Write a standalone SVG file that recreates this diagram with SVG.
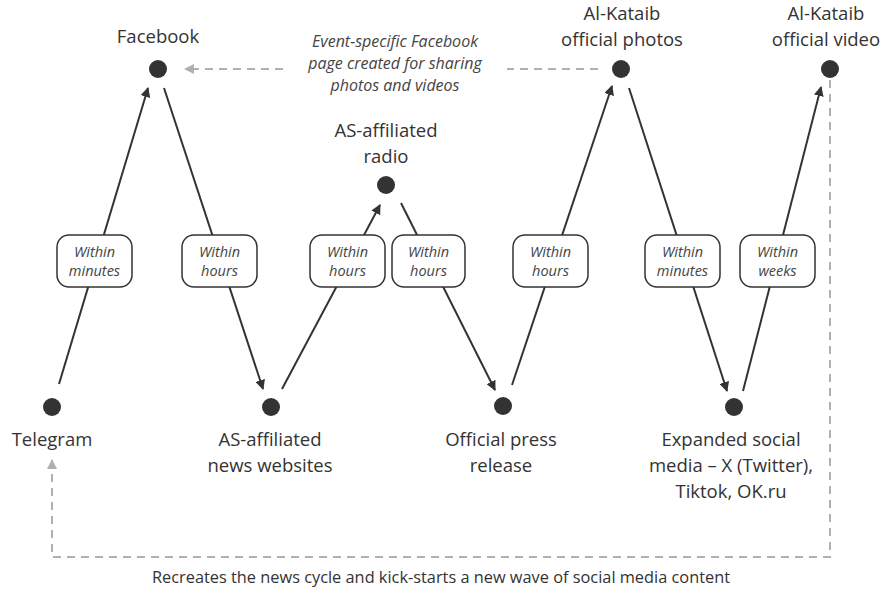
<svg xmlns="http://www.w3.org/2000/svg" width="886" height="595" viewBox="0 0 886 595">
<style>
.lbl{font-family:"Open Sans","DejaVu Sans",sans-serif;font-size:18.5px;fill:#333;text-anchor:middle}
.note{font-family:"Open Sans","DejaVu Sans",sans-serif;font-size:16px;font-style:italic;fill:#444;text-anchor:middle}
.tag{font-family:"Open Sans","DejaVu Sans",sans-serif;font-size:14.5px;font-style:italic;fill:#444;text-anchor:middle}
.foot{font-family:"Open Sans","DejaVu Sans",sans-serif;font-size:15.5px;fill:#333;text-anchor:middle}
.dot{fill:#333}
.arr{stroke:#333;stroke-width:2;fill:none;marker-end:url(#ah)}
.dash{stroke:#b0b0b0;stroke-width:2;fill:none;stroke-dasharray:8 6}
.box{fill:#fff;stroke:#333;stroke-width:1.5}
</style>
<defs>
<marker id="ah" viewBox="0 0 10 10" refX="9" refY="5" markerWidth="5" markerHeight="5" orient="auto" markerUnits="strokeWidth">
<path d="M0,0 L10,5 L0,10 z" fill="#333"/>
</marker>
<marker id="ahg" viewBox="0 0 10 10" refX="9" refY="5" markerWidth="5" markerHeight="5" orient="auto" markerUnits="strokeWidth">
<path d="M0,0 L10,5 L0,10 z" fill="#b0b0b0"/>
</marker>
</defs>
<rect width="886" height="595" fill="#fff"/>
<g id="connectors">
<line class="arr" x1="59" y1="384" x2="148" y2="88"/>
<line class="arr" x1="164" y1="88" x2="263" y2="389"/>
<line class="arr" x1="282" y1="389" x2="380" y2="205"/>
<line class="arr" x1="401" y1="203" x2="495" y2="390"/>
<line class="arr" x1="512" y1="385" x2="612" y2="86"/>
<line class="arr" x1="629" y1="88" x2="727" y2="391"/>
<line class="arr" x1="743" y1="391" x2="821" y2="87"/>
<line class="dash" x1="598" y1="69" x2="507" y2="69"/>
<line class="dash" x1="283" y1="69" x2="185" y2="69" style="marker-end:url(#ahg)"/>
<polyline class="dash" points="830,80 830,557 52,557 52,460" style="marker-end:url(#ahg)"/>
</g>
<g id="lbl-1"><rect class="box" x="57" y="235" width="75" height="52" rx="12"/><text class="tag" x="94.5" y="257">Within</text><text class="tag" x="94.5" y="276">minutes</text></g>
<g id="lbl-2"><rect class="box" x="182" y="235" width="75" height="52" rx="12"/><text class="tag" x="219.5" y="257">Within</text><text class="tag" x="219.5" y="276">hours</text></g>
<g id="lbl-3"><rect class="box" x="310" y="235" width="75" height="52" rx="12"/><text class="tag" x="347.5" y="257">Within</text><text class="tag" x="347.5" y="276">hours</text></g>
<g id="lbl-4"><rect class="box" x="392" y="235" width="73" height="52" rx="12"/><text class="tag" x="428.5" y="257">Within</text><text class="tag" x="428.5" y="276">hours</text></g>
<g id="lbl-5"><rect class="box" x="513" y="235" width="75" height="52" rx="12"/><text class="tag" x="550.5" y="257">Within</text><text class="tag" x="550.5" y="276">hours</text></g>
<g id="lbl-6"><rect class="box" x="645" y="235" width="75" height="52" rx="12"/><text class="tag" x="682.5" y="257">Within</text><text class="tag" x="682.5" y="276">minutes</text></g>
<g id="lbl-7"><rect class="box" x="740" y="235" width="75" height="52" rx="12"/><text class="tag" x="777.5" y="257">Within</text><text class="tag" x="777.5" y="276">weeks</text></g>
<g id="telegram"><circle class="dot" cx="52" cy="407" r="9"/><text class="lbl" x="52" y="446">Telegram</text></g>
<g id="facebook"><circle class="dot" cx="158" cy="69" r="9"/><text class="lbl" x="158" y="43">Facebook</text></g>
<g id="news"><circle class="dot" cx="271" cy="407" r="9"/><text class="lbl" x="270" y="446">AS-affiliated</text><text class="lbl" x="270" y="472">news websites</text></g>
<g id="radio"><circle class="dot" cx="386" cy="185" r="9"/><text class="lbl" x="386" y="137">AS-affiliated</text><text class="lbl" x="386" y="163">radio</text></g>
<g id="press"><circle class="dot" cx="503" cy="406" r="9"/><text class="lbl" x="501" y="446">Official press</text><text class="lbl" x="501" y="472">release</text></g>
<g id="photos"><circle class="dot" cx="621" cy="69" r="9"/><text class="lbl" x="622" y="20">Al-Kataib</text><text class="lbl" x="622" y="46">official photos</text></g>
<g id="social"><circle class="dot" cx="734" cy="407" r="9"/><text class="lbl" x="731" y="446">Expanded social</text><text class="lbl" x="731" y="472">media – X (Twitter),</text><text class="lbl" x="731" y="498">Tiktok, OK.ru</text></g>
<g id="video"><circle class="dot" cx="830" cy="69" r="9"/><text class="lbl" x="826" y="20">Al-Kataib</text><text class="lbl" x="826" y="46">official video</text></g>
<g id="note"><text class="note" x="395" y="47">Event-specific Facebook</text><text class="note" x="395" y="69">page created for sharing</text><text class="note" x="395" y="91">photos and videos</text></g>
<g id="footer"><text class="foot" x="441" y="583" textLength="578" lengthAdjust="spacingAndGlyphs">Recreates the news cycle and kick-starts a new wave of social media content</text></g>
</svg>
